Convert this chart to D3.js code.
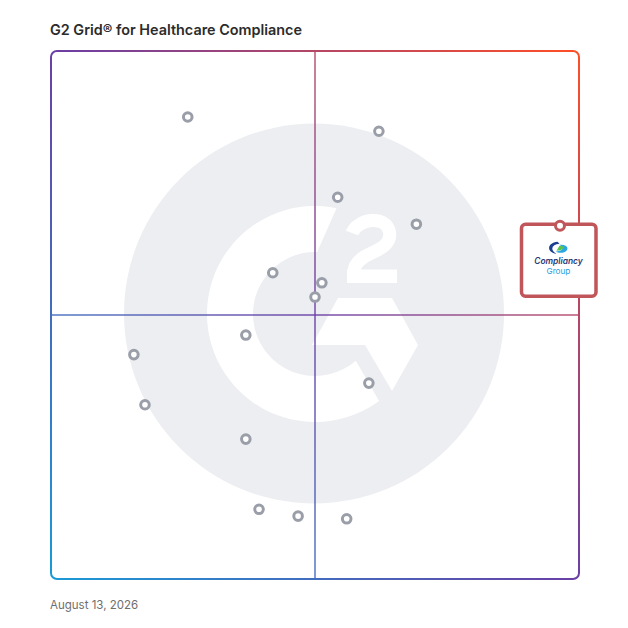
<!DOCTYPE html>
<html>
<head>
<meta charset="utf-8">
<script src="https://cdn.jsdelivr.net/npm/d3@7"></script>
<style>
  html, body { margin: 0; padding: 0; background: #ffffff; }
  svg { display: block; font-family: Inter, "Noto Sans", sans-serif; }
</style>
</head>
<body>
<svg id="chart" width="628" height="628"></svg>
<script>
// ---- data ----
const chartTitle = "G2 Grid\u00AE for Healthcare Compliance";
const dateLabel = "August 13, 2026";
// satisfaction (x) and market presence (y), 0-100 scale
const productX = [25.9, 62.1, 54.3, 69.2, 42.0, 51.3, 50.0, 36.9, 15.7, 60.2, 17.8, 36.9, 39.4, 46.8, 56.0];
const productY = [87.5, 84.8, 72.3, 67.2, 58.0, 56.1, 53.4, 46.2, 42.5, 37.1, 33.0, 26.5, 13.2, 11.9, 11.4];
const highlightNames = ["Compliancy", "Group"];
const highlightX = [96.4];
const highlightY = [66.9];

// ---- layout ----
const svg = d3.select("#chart");
const gLeft = 51, gRight = 579, gTop = 51, gBottom = 579;
const x = d3.scaleLinear().domain([0, 100]).range([gLeft, gRight]);
const y = d3.scaleLinear().domain([0, 100]).range([gBottom, gTop]);

const defs = svg.append("defs");
function gradient(id, opacity) {
  const g = defs.append("linearGradient").attr("id", id)
    .attr("gradientUnits", "userSpaceOnUse")
    .attr("x1", gLeft).attr("y1", gBottom).attr("x2", gRight).attr("y2", gTop);
  [["0%", "#1a9ad6"], ["50%", "#6a3fa6"], ["100%", "#ff4e26"]].forEach(([o, c]) =>
    g.append("stop").attr("offset", o).attr("stop-color", c).attr("stop-opacity", opacity));
}
gradient("frameGrad", 1);
gradient("lineGrad", 0.92);

// title
svg.append("text").attr("x", 50).attr("y", 34.5)
  .attr("font-size", 14.4).attr("font-weight", 600).attr("fill", "#2b2b2b")
  .text(chartTitle);

// G2 watermark
const wcx = 314, wcy = 313.5;
const wm = svg.append("g");
wm.append("circle").attr("cx", wcx).attr("cy", wcy).attr("r", 190).attr("fill", "#eceef1");
const gc = {x: 315, y: 314};
const rO = 108, rI = 62;
const pt = (r, a) => [gc.x + r * Math.cos(a * Math.PI / 180), gc.y + r * Math.sin(a * Math.PI / 180)];
const o1 = pt(rO, -78.5), o2 = pt(rO, 53.6), i2 = pt(rI, 48.8), i1 = pt(rI, -88);
wm.append("path").attr("fill", "#ffffff").attr("d",
  `M${o1} A${rO},${rO} 0 1 0 ${o2} L${i2} A${rI},${rI} 0 1 1 ${i1} Z`);
wm.append("path").attr("fill", "#ffffff").attr("d",
  "M312,345 L338,298 L392,298 L418,345 L392,391 L365,345 Z");
wm.append("path").attr("fill", "none").attr("stroke", "#ffffff").attr("stroke-width", 13)
  .attr("d", "M352,233 C357,219 386,214 389.5,232 C392,247 374,251 364,257 C355,263 353.5,268 353.5,277");
wm.append("rect").attr("x", 347).attr("y", 269.5).attr("width", 50).attr("height", 13.5).attr("fill", "#ffffff");

// quadrant lines
svg.append("line").attr("x1", x(50)).attr("x2", x(50)).attr("y1", gTop).attr("y2", gBottom)
  .attr("stroke", "url(#lineGrad)").attr("stroke-width", 1.5);
svg.append("line").attr("x1", gLeft).attr("x2", gRight).attr("y1", y(50)).attr("y2", y(50))
  .attr("stroke", "url(#lineGrad)").attr("stroke-width", 1.5);

// frame
svg.append("rect").attr("x", gLeft).attr("y", gTop)
  .attr("width", gRight - gLeft).attr("height", gBottom - gTop)
  .attr("rx", 6).attr("fill", "none")
  .attr("stroke", "url(#frameGrad)").attr("stroke-width", 2);

// product markers
svg.append("g").selectAll("circle").data(productX.map((v, i) => [v, productY[i]]))
  .join("circle")
  .attr("cx", d => x(d[0])).attr("cy", d => y(d[1])).attr("r", 4.3)
  .attr("fill", "#ffffff").attr("stroke", "#9a9ea8").attr("stroke-width", 3);

// highlighted product
const hx = x(highlightX[0]), hy = y(highlightY[0]);
const hg = svg.append("g");
hg.append("rect").attr("x", hx - 38.5).attr("y", hy - 1.5).attr("width", 74.5).attr("height", 72)
  .attr("rx", 4).attr("fill", "#ffffff").attr("stroke", "#c0565a").attr("stroke-width", 3.5);
hg.append("circle").attr("cx", hx).attr("cy", hy).attr("r", 4.5)
  .attr("fill", "#ffffff").attr("stroke", "#c0565a").attr("stroke-width", 3);
// logo icon
const lx = hx - 1.5, ly = hy + 22;
hg.append("path").attr("fill", "#1d3f8f")
  .attr("d", `M${lx-1},${ly-6} C${lx-12},${ly-5} ${lx-12},${ly+5} ${lx-2},${ly+6} C${lx-8},${ly+3} ${lx-8},${ly-3} ${lx+1},${ly-4} Z`);
hg.append("path").attr("fill", "#2aa7e0")
  .attr("d", `M${lx+1},${ly-3} C${lx+10},${ly-4} ${lx+12},${ly+3} ${lx+4},${ly+5} C${lx+2},${ly+5} ${lx-1},${ly+5} ${lx-3},${ly+4} C${lx+3},${ly+3} ${lx+7},${ly+1} ${lx+1},${ly-3} Z`);
hg.append("path").attr("fill", "#5cc24a")
  .attr("d", `M${lx-2},${ly+3} L${lx+1},${ly-2} L${lx+6},${ly-1} C${lx+4},${ly+2} ${lx+1},${ly+3} ${lx-2},${ly+3} Z`);
hg.append("text").attr("x", hx - 1.5).attr("y", hy + 38.5).attr("text-anchor", "middle")
  .attr("font-size", 8.4).attr("font-style", "italic").attr("font-weight", 600)
  .attr("fill", "#1f3a78").text(highlightNames[0]);
hg.append("text").attr("x", hx - 1.5).attr("y", hy + 48.2).attr("text-anchor", "middle")
  .attr("font-size", 8.2).attr("fill", "#2aa0e0").text(highlightNames[1]);

// date
svg.append("text").attr("x", 50).attr("y", 608.5)
  .attr("font-size", 11.5).attr("fill", "#6e6e6e").text(dateLabel);
</script>
</body>
</html>
